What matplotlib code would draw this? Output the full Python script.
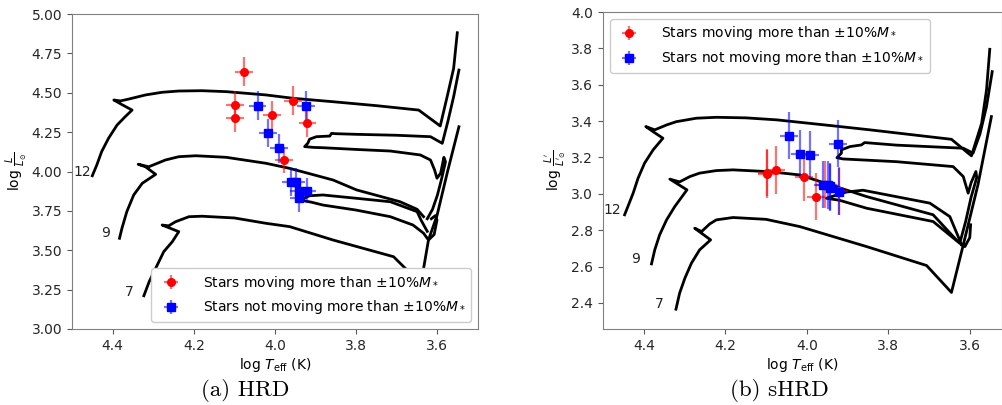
import matplotlib
matplotlib.use('Agg')
import matplotlib.pyplot as plt

# Etoiles (log Teff commun aux deux diagrammes)
red_t = [4.076, 4.098, 4.098, 4.007, 3.956, 3.920, 3.977]
red_l_hrd = [4.634, 4.422, 4.342, 4.359, 4.450, 4.310, 4.073]
red_l_shrd = [3.132, 3.117, 3.110, 3.092, 3.050, 3.015, 2.985]
red_yerr_hrd = [0.09, 0.09, 0.09, 0.09, 0.09, 0.09, 0.08]

blue_t = [4.043, 3.923, 4.017, 3.991, 3.960, 3.949, 3.942, 3.920, 3.942]
blue_l_hrd = [4.418, 4.418, 4.244, 4.147, 3.935, 3.935, 3.878, 3.878, 3.830]
blue_l_shrd = [3.320, 3.275, 3.220, 3.215, 3.050, 3.048, 3.042, 3.013, 3.035]
blue_yerr_hrd = [0.09, 0.09, 0.09, 0.09, 0.09, 0.09, 0.08, 0.08, 0.09]

xerr = 0.022
yerr_shrd = 0.13

# Traces evolutives - HRD
hrd_t12 = [4.450, 4.439, 4.427, 4.410, 4.389, 4.369, 4.352, 4.375, 4.397, 4.381, 4.360, 4.319,
           4.278, 4.237, 4.180, 4.120, 4.022, 3.956, 3.857, 3.750, 3.646, 3.593, 3.576, 3.560, 3.551]
hrd_l12 = [3.973, 4.041, 4.126, 4.211, 4.295, 4.348, 4.390, 4.422, 4.454, 4.448, 4.460, 4.486,
           4.503, 4.511, 4.513, 4.507, 4.486, 4.465, 4.443, 4.418, 4.390, 4.289, 4.475, 4.655, 4.881]
hrd_t12_loop = [3.547, 3.560, 3.574, 3.588, 3.617, 3.700, 3.799, 3.850, 3.861, 3.865, 3.898, 3.915,
                3.919, 3.927, 3.905, 3.882, 3.800, 3.716, 3.642, 3.617, 3.607, 3.601, 3.592, 3.584,
                3.580, 3.590, 3.600, 3.612, 3.625]
hrd_l12_loop = [4.644, 4.475, 4.320, 4.179, 4.221, 4.230, 4.236, 4.240, 4.242, 4.225, 4.221, 4.205,
                4.180, 4.158, 4.153, 4.151, 4.140, 4.130, 4.105, 4.073, 4.010, 3.957, 3.990, 4.090,
                4.062, 3.950, 3.850, 3.760, 3.700]
hrd_t9 = [4.383, 4.377, 4.365, 4.348, 4.327, 4.294, 4.319, 4.337, 4.311, 4.287, 4.270, 4.237,
          4.195, 4.120, 4.022, 3.964, 3.857, 3.799, 3.692, 3.650, 3.634]
hrd_l9 = [3.576, 3.639, 3.745, 3.851, 3.925, 3.982, 4.030, 4.046, 4.030, 4.055, 4.073, 4.094,
          4.100, 4.090, 4.052, 4.020, 3.946, 3.883, 3.808, 3.760, 3.713]
hrd_t9_loop = [3.625, 3.640, 3.650, 3.716, 3.800, 3.882, 3.915, 3.939, 3.910, 3.882, 3.800, 3.716,
               3.660, 3.634, 3.622, 3.608, 3.601, 3.605, 3.615]
hrd_l9_loop = [3.620, 3.690, 3.745, 3.808, 3.830, 3.851, 3.846, 3.819, 3.805, 3.787, 3.755, 3.713,
               3.660, 3.608, 3.565, 3.600, 3.692, 3.720, 3.700]
hrd_t7 = [4.323, 4.310, 4.294, 4.274, 4.253, 4.237, 4.278, 4.262, 4.245, 4.212, 4.180, 4.100,
          4.022, 3.964, 3.857, 3.708, 3.679, 3.655, 3.645, 3.634, 3.622, 3.601, 3.575, 3.547]
hrd_l7 = [3.211, 3.300, 3.385, 3.491, 3.554, 3.618, 3.660, 3.655, 3.681, 3.713, 3.716, 3.705,
          3.671, 3.650, 3.565, 3.459, 3.385, 3.330, 3.290, 3.385, 3.565, 3.720, 4.000, 4.284]

# Traces evolutives - sHRD
shrd_t12 = [4.447, 4.439, 4.426, 4.414, 4.398, 4.377, 4.353, 4.377, 4.395, 4.373, 4.344, 4.320,
            4.271, 4.222, 4.150, 4.074, 3.935, 3.845, 3.645, 3.596, 3.571, 3.559, 3.551]
shrd_l12 = [2.885, 2.930, 3.004, 3.086, 3.169, 3.242, 3.306, 3.342, 3.370, 3.352, 3.379, 3.397,
            3.416, 3.421, 3.418, 3.407, 3.374, 3.352, 3.300, 3.209, 3.388, 3.571, 3.795]
shrd_t12_loop = [3.545, 3.559, 3.575, 3.592, 3.616, 3.780, 3.858, 3.866, 3.894, 3.915, 3.915, 3.926,
                 3.911, 3.780, 3.641, 3.616, 3.604, 3.597, 3.585, 3.583, 3.597, 3.610, 3.622]
shrd_l12_loop = [3.672, 3.480, 3.330, 3.224, 3.251, 3.268, 3.282, 3.269, 3.260, 3.242, 3.224, 3.199,
                 3.192, 3.177, 3.150, 3.095, 3.004, 3.060, 3.123, 3.090, 2.980, 2.850, 2.750]
shrd_t9 = [4.381, 4.373, 4.361, 4.344, 4.324, 4.294, 4.336, 4.312, 4.287, 4.263, 4.222, 4.181,
           4.091, 4.017, 3.853, 3.690, 3.633]
shrd_l9 = [2.615, 2.692, 2.775, 2.857, 2.930, 3.022, 3.081, 3.066, 3.095, 3.114, 3.128, 3.132,
           3.122, 3.104, 2.985, 2.885, 2.747]
shrd_t9_loop = [3.620, 3.649, 3.698, 3.862, 3.903, 3.952, 3.920, 3.853, 3.690, 3.625, 3.612, 3.600, 3.598]
shrd_l9_loop = [2.720, 2.875, 2.949, 3.020, 3.010, 2.976, 2.965, 2.921, 2.848, 2.729, 2.710, 2.760, 2.830]
shrd_t7 = [4.321, 4.312, 4.299, 4.283, 4.263, 4.236, 4.275, 4.258, 4.238, 4.222, 4.181, 4.100,
           4.017, 3.853, 3.706, 3.645, 3.616, 3.580, 3.547]
shrd_l7 = [2.366, 2.454, 2.537, 2.619, 2.692, 2.747, 2.811, 2.793, 2.835, 2.857, 2.870, 2.860,
           2.820, 2.710, 2.606, 2.458, 2.720, 3.050, 3.425]

masses = ['12', '9', '7']
hrd_label_pos = [(4.454, 3.997), (4.407, 3.611), (4.347, 3.237)]
shrd_label_pos = [(4.455, 2.912), (4.410, 2.643), (4.351, 2.394)]

lab_red = r'Stars moving more than $\pm10\%M_*$'
lab_blue = r'Stars not moving more than $\pm10\%M_*$'

fig = plt.figure(figsize=(10.02, 4.05), dpi=100)
ax1 = fig.add_axes([72 / 1002, 76 / 405, 406 / 1002, 315 / 405])
ax2 = fig.add_axes([603 / 1002, 76 / 405, 399 / 1002, 317 / 405])


def tracer(ax, traces, pos_labels, red_l, blue_l, yerr_r, yerr_b):
    for t, l in traces:
        ax.plot(t, l, color='black', lw=2)
    for m, (x, y) in zip(masses, pos_labels):
        ax.text(x, y, m, ha='right', va='center', fontsize=10, color='#222222')
    ax.errorbar(red_t, red_l, xerr=xerr, yerr=yerr_r, fmt='o', color='red',
                ecolor=(1, 0, 0, 0.55), elinewidth=1.6, markersize=5.5, label=lab_red)
    ax.errorbar(blue_t, blue_l, xerr=xerr, yerr=yerr_b, fmt='s', color='blue',
                ecolor=(0, 0, 1, 0.55), elinewidth=1.6, markersize=6, label=lab_blue)
    ax.set_xlabel(r'$\log\,T_{\rm eff}$ (K)', fontsize=10, labelpad=2)
    for s in ax.spines.values():
        s.set_color('0.5')
    ax.tick_params(colors='0.35', labelcolor='0.15', labelsize=10)


tracer(ax1, [(hrd_t12, hrd_l12), (hrd_t12_loop, hrd_l12_loop), (hrd_t9, hrd_l9),
             (hrd_t9_loop, hrd_l9_loop), (hrd_t7, hrd_l7)],
       hrd_label_pos, red_l_hrd, blue_l_hrd, red_yerr_hrd, blue_yerr_hrd)
ax1.set_xlim(4.5, 3.5)
ax1.set_ylim(3.0, 5.0)
ax1.set_xticks([4.4, 4.2, 4.0, 3.8, 3.6])
ax1.set_ylabel(r'$\log\,\frac{L}{L_{\odot}}$', fontsize=10, labelpad=2)
ax1.legend(loc='lower right', fontsize=10, framealpha=1, handletextpad=1.3)

tracer(ax2, [(shrd_t12, shrd_l12), (shrd_t12_loop, shrd_l12_loop), (shrd_t9, shrd_l9),
             (shrd_t9_loop, shrd_l9_loop), (shrd_t7, shrd_l7)],
       shrd_label_pos, red_l_shrd, blue_l_shrd, yerr_shrd, yerr_shrd)
ax2.set_xlim(4.5, 3.521)
ax2.set_ylim(2.257, 4.0)
ax2.set_xticks([4.4, 4.2, 4.0, 3.8, 3.6])
ax2.set_ylabel(r"$\log\,\frac{L'}{L'_{\odot}}$", fontsize=10, labelpad=2)
ax2.legend(loc='upper left', fontsize=10, framealpha=1, handletextpad=1.3)

fig.text(245 / 1002, 1 - 391 / 405, '(a) HRD', ha='center', va='center',
         fontsize=16.5, family='cmr10')
fig.text(779 / 1002, 1 - 391 / 405, '(b) sHRD', ha='center', va='center',
         fontsize=16.5, family='cmr10')

fig.savefig('out.png', dpi=100)
